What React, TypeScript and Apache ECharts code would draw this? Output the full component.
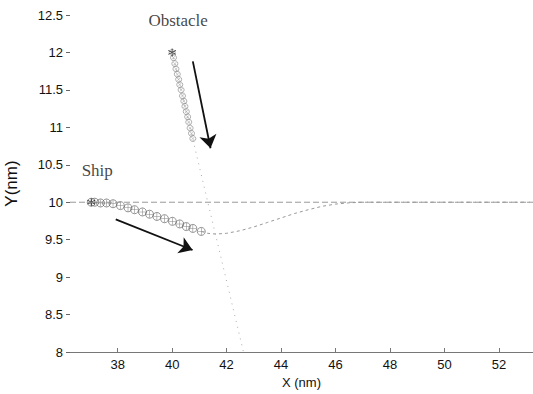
import React, { useEffect, useRef } from "react";
import * as echarts from "echarts";

const xTicks = [38, 40, 42, 44, 46, 48, 50, 52];
const referencePath = [
  [36.25, 10],
  [53.25, 10],
];
const obstaclePath = [
  [40.0, 12.0],
  [42.62, 8.0],
];
const shipMarkers = [
  [37.03, 10.0], [37.16, 10.0], [37.37, 9.99], [37.59, 9.99], [37.83, 9.98],
  [38.1, 9.955], [38.38, 9.925], [38.62, 9.9], [38.91, 9.87], [39.17, 9.84],
  [39.44, 9.81], [39.72, 9.78], [40.01, 9.745], [40.28, 9.71], [40.52, 9.675],
  [40.76, 9.65], [41.07, 9.61],
];
const shipCurve = [
  [41.07, 9.61], [41.3, 9.585], [41.6, 9.575], [42.0, 9.585], [42.5, 9.62],
  [43.0, 9.67], [43.5, 9.73], [44.0, 9.79], [44.5, 9.85], [45.0, 9.9],
  [45.5, 9.945], [46.0, 9.975], [46.5, 9.992], [47.0, 10.0], [53.25, 10.0],
];
const obstacleMarkers = [
  [40.0, 12.0], [40.05, 11.93], [40.1, 11.85], [40.14, 11.78], [40.19, 11.71],
  [40.24, 11.64], [40.28, 11.57], [40.33, 11.5], [40.38, 11.42], [40.43, 11.35],
  [40.47, 11.28], [40.52, 11.21], [40.57, 11.14], [40.61, 11.07], [40.66, 10.99],
  [40.71, 10.92], [40.76, 10.85],
];
const startPoints = [
  [37.03, 10.0],
  [40.0, 12.0],
];
const labelNames = ["Obstacle", "Ship"];
const labelPositions = [
  [40.22, 12.43],
  [37.25, 10.417],
];
const obstacleArrow = [
  [40.76, 11.88],
  [41.41, 10.72],
];
const shipArrow = [
  [37.93, 9.77],
  [40.75, 9.362],
];

const PLUS = "path://M-0.08,-1H0.08V-0.08H1V0.08H0.08V1H-0.08V0.08H-1V-0.08H-0.08Z";
const STAR =
  "path://M-0.1,-1H0.1V-0.17L0.82,-0.59L0.92,-0.41L0.2,0L0.92,0.41L0.82,0.59L0.1,0.17V1H-0.1V0.17L-0.82,0.59L-0.92,0.41L-0.2,0L-0.92,-0.41L-0.82,-0.59L-0.1,-0.17Z";

export default function App() {
  const ref = useRef<HTMLDivElement>(null);
  useEffect(() => {
    if (!ref.current) return;
    const chart = echarts.init(ref.current, null, { renderer: "svg" });
    const sansFont = "Liberation Sans";
    chart.setOption({
      animation: false,
      backgroundColor: "#ffffff",
      grid: { left: 70, right: 0, top: 15, bottom: 42, outerBoundsMode: "none" },
      xAxis: {
        type: "value",
        min: 36.25,
        max: 53.25,
        name: "X (nm)",
        nameLocation: "middle",
        nameGap: 23,
        nameTextStyle: { fontFamily: sansFont, fontSize: 13, color: "#111" },
        axisLine: { show: true, lineStyle: { color: "#777", width: 1 } },
        axisTick: { show: true, inside: true, length: 4, customValues: xTicks, lineStyle: { color: "#777" } },
        axisLabel: { customValues: xTicks, fontFamily: sansFont, fontSize: 13, color: "#111", margin: 6 },
        splitLine: { show: false },
      },
      yAxis: {
        type: "value",
        min: 8,
        max: 12.5,
        interval: 0.5,
        name: "Y(nm)",
        nameLocation: "middle",
        nameGap: 50,
        nameTextStyle: { fontFamily: sansFont, fontSize: 17, color: "#111" },
        axisLine: { show: false },
        axisTick: { show: true, length: 4, lineStyle: { color: "#666" } },
        axisLabel: { fontFamily: sansFont, fontSize: 13, color: "#111", margin: 7 },
        splitLine: { show: false },
      },
      series: [
        {
          type: "line",
          data: referencePath,
          showSymbol: false,
          silent: true,
          lineStyle: { color: "#999", width: 1, type: [6, 3] },
        },
        {
          type: "line",
          data: obstaclePath,
          showSymbol: false,
          silent: true,
          lineStyle: { color: "#aaa", width: 1, type: [1, 5] },
        },
        {
          type: "line",
          data: shipCurve,
          showSymbol: false,
          silent: true,
          lineStyle: { color: "#999", width: 1, type: [3, 3] },
        },
        {
          type: "scatter",
          data: shipMarkers,
          symbol: "circle",
          symbolSize: 8,
          silent: true,
          itemStyle: { color: "rgba(0,0,0,0)", borderColor: "#555", borderWidth: 0.8 },
        },
        {
          type: "scatter",
          data: shipMarkers,
          symbol: PLUS,
          symbolSize: 7,
          silent: true,
          itemStyle: { color: "#666" },
        },
        {
          type: "scatter",
          data: obstacleMarkers,
          symbol: "circle",
          symbolSize: 6,
          silent: true,
          itemStyle: { color: "rgba(0,0,0,0)", borderColor: "#777", borderWidth: 0.7 },
        },
        {
          type: "scatter",
          data: obstacleMarkers,
          symbol: PLUS,
          symbolSize: 5,
          symbolRotate: 45,
          silent: true,
          itemStyle: { color: "#888" },
        },
        {
          type: "scatter",
          data: startPoints,
          symbol: STAR,
          symbolSize: 8,
          silent: true,
          itemStyle: { color: "#111" },
        },
        {
          type: "scatter",
          data: labelPositions.map((p, i) => ({ value: p, name: labelNames[i] })),
          symbolSize: 0,
          silent: true,
          label: {
            show: true,
            position: "inside",
            formatter: (p: any) => p.name,
            fontFamily: "Liberation Serif",
            fontSize: 17,
            color: "#111",
          },
        },
        {
          type: "line",
          data: [],
          silent: true,
          markLine: {
            silent: true,
            symbol: ["none", "arrow"],
            symbolSize: 13,
            label: { show: false },
            lineStyle: { color: "#111", width: 1.8, type: "solid" },
            emphasis: { disabled: true },
            data: [
              [{ coord: obstacleArrow[0] }, { coord: obstacleArrow[1] }],
              [{ coord: shipArrow[0] }, { coord: shipArrow[1] }],
            ],
          },
        },
      ],
    });
    return () => chart.dispose();
  }, []);
  return (
    <div
      ref={ref}
      style={{ position: "fixed", left: 0, top: 0, width: 533, height: 394 }}
    />
  );
}
